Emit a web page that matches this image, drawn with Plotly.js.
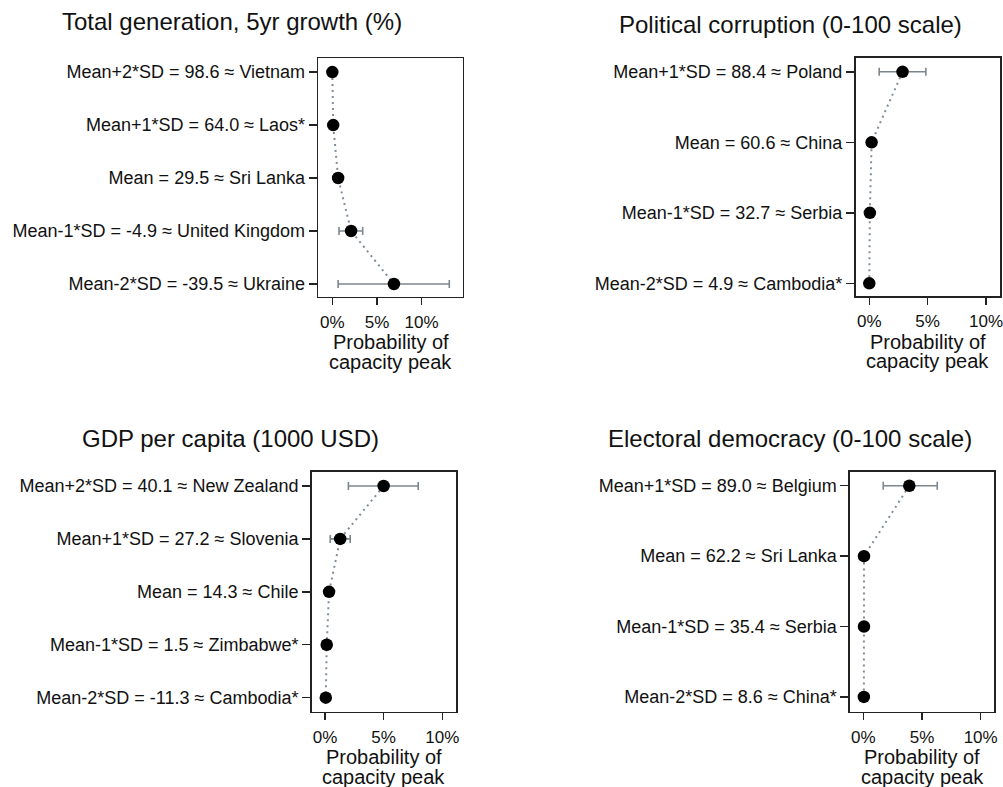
<!DOCTYPE html>
<html>
<head>
<meta charset="utf-8">
<script src="https://cdn.plot.ly/plotly-3.0.1.min.js"></script>
<style>html,body{margin:0;padding:0;background:#fff;}#chart{width:1003px;height:787px;}</style>
</head>
<body>
<div id="chart"></div>
<script>
// ---- Data ----
const titles = ["Total generation, 5yr growth (%)", "Political corruption (0-100 scale)", "GDP per capita (1000 USD)", "Electoral democracy (0-100 scale)"];

const genLabels = ["Mean+2*SD = 98.6 ≈ Vietnam", "Mean+1*SD = 64.0 ≈ Laos*", "Mean = 29.5 ≈ Sri Lanka", "Mean-1*SD = -4.9 ≈ United Kingdom", "Mean-2*SD = -39.5 ≈ Ukraine"];
const genProb = [0.0, 0.1, 0.65, 2.1, 6.9];
const genLo = [null, null, null, 0.75, 0.65];
const genHi = [null, null, null, 3.4, 13.1];

const corLabels = ["Mean+1*SD = 88.4 ≈ Poland", "Mean = 60.6 ≈ China", "Mean-1*SD = 32.7 ≈ Serbia", "Mean-2*SD = 4.9 ≈ Cambodia*"];
const corProb = [2.85, 0.2, 0.05, 0.0];
const corLo = [0.85, null, null, null];
const corHi = [4.85, null, null, null];

const gdpLabels = ["Mean+2*SD = 40.1 ≈ New Zealand", "Mean+1*SD = 27.2 ≈ Slovenia", "Mean = 14.3 ≈ Chile", "Mean-1*SD = 1.5 ≈ Zimbabwe*", "Mean-2*SD = -11.3 ≈ Cambodia*"];
const gdpProb = [5.0, 1.3, 0.35, 0.15, 0.07];
const gdpLo = [2.0, 0.45, null, null, null];
const gdpHi = [7.95, 2.15, null, null, null];

const demLabels = ["Mean+1*SD = 89.0 ≈ Belgium", "Mean = 62.2 ≈ Sri Lanka", "Mean-1*SD = 35.4 ≈ Serbia", "Mean-2*SD = 8.6 ≈ China*"];
const demProb = [3.92, 0.06, 0.06, 0.05];
const demLo = [1.7, null, null, null];
const demHi = [6.3, null, null, null];

const xTickVals = [0, 5, 10];
const xTickText = ["0%", "5%", "10%"];
const xTitleLines = ["Probability of", "capacity peak"];

// ---- Layout helpers ----
const W = 1003, H = 787;
const FONT = "Liberation Sans, Arial, Helvetica, sans-serif";
const INK = "#111111";
const px = v => v / W;
const py = v => 1 - v / H;

const panels = [
  {labels: genLabels, p: genProb, lo: genLo, hi: genHi, box: [318.3, 462.7, 58.3, 296.7], xr: [-1.57, 14.6], yr: [4.24, -0.26], title: [231.5, 22]},
  {labels: corLabels, p: corProb, lo: corLo, hi: corHi, box: [855.5, 1000, 57.7, 296], xr: [-1.18, 11.2], yr: [3.18, -0.2], title: [790, 24]},
  {labels: gdpLabels, p: gdpProb, lo: gdpLo, hi: gdpHi, box: [311.7, 456, 471.7, 711.7], xr: [-1.13, 11.17], yr: [4.265, -0.27], title: [230.5, 438]},
  {labels: demLabels, p: demProb, lo: demLo, hi: demHi, box: [850, 994.3, 471.7, 711.7], xr: [-1.13, 11.16], yr: [3.21, -0.2], title: [790, 438]}
];

const traces = [];
const layout = {
  width: W, height: H,
  margin: {l: 0, r: 0, t: 0, b: 0, pad: 0},
  paper_bgcolor: "#ffffff", plot_bgcolor: "#ffffff",
  showlegend: false,
  font: {family: FONT, color: INK},
  annotations: []
};

panels.forEach((pn, i) => {
  const n = i === 0 ? "" : String(i + 1);
  const plus = pn.p.map((v, k) => pn.hi[k] == null ? null : pn.hi[k] - v);
  const minus = pn.p.map((v, k) => pn.lo[k] == null ? null : v - pn.lo[k]);
  traces.push({
    type: "scatter", mode: "lines+markers",
    x: pn.p, y: pn.labels,
    xaxis: "x" + n, yaxis: "y" + n,
    line: {color: "#7f8e9c", width: 2, dash: "2px,4px"},
    marker: {color: "#000000", size: 12.5},
    error_x: {type: "data", array: plus, arrayminus: minus, symmetric: false, color: "#7d868f", thickness: 1.6, width: 4},
    hoverinfo: "x+y"
  });
  const [x0, x1, y0, y1] = pn.box;
  layout["xaxis" + n] = {
    domain: [px(x0), px(x1)], anchor: "y" + n, range: pn.xr,
    tickmode: "array", tickvals: xTickVals, ticktext: xTickText,
    ticks: "outside", ticklen: 7, tickwidth: 1.4, tickcolor: "#222",
    showline: true, mirror: true, linecolor: "#222", linewidth: 1.6,
    showgrid: false, zeroline: false, automargin: false,
    tickfont: {size: 17, color: INK, family: FONT}, ticklabelstandoff: 2,
    ticklabeloverflow: "allow",
    fixedrange: true
  };
  layout["yaxis" + n] = {
    domain: [py(y1), py(y0)], anchor: "x" + n, type: "category",
    categoryorder: "array", categoryarray: pn.labels, range: pn.yr,
    ticks: "outside", ticklen: 8, tickwidth: 1.4, tickcolor: "#222",
    showline: true, mirror: true, linecolor: "#222", linewidth: 1.6,
    showgrid: false, zeroline: false, automargin: false,
    tickfont: {size: 18, color: INK, family: FONT}, ticklabelstandoff: 0,
    ticklabeloverflow: "allow",
    fixedrange: true
  };
  layout.annotations.push({
    text: titles[i], xref: "paper", yref: "paper", x: px(pn.title[0]), y: py(pn.title[1]),
    xanchor: "center", yanchor: "middle", showarrow: false,
    font: {size: 24, color: INK, family: FONT}
  });
  const cx = (x0 + x1) / 2;
  xTitleLines.forEach((t, j) => {
    layout.annotations.push({
      text: t, xref: "paper", yref: "paper", x: px(cx), y: py(y1 + 45.5 + j * 19.7),
      xanchor: "center", yanchor: "middle", showarrow: false,
      font: {size: 20, color: INK, family: FONT}
    });
  });
});

Plotly.newPlot("chart", traces, layout, {displayModeBar: false, staticPlot: true});
</script>
</body>
</html>
